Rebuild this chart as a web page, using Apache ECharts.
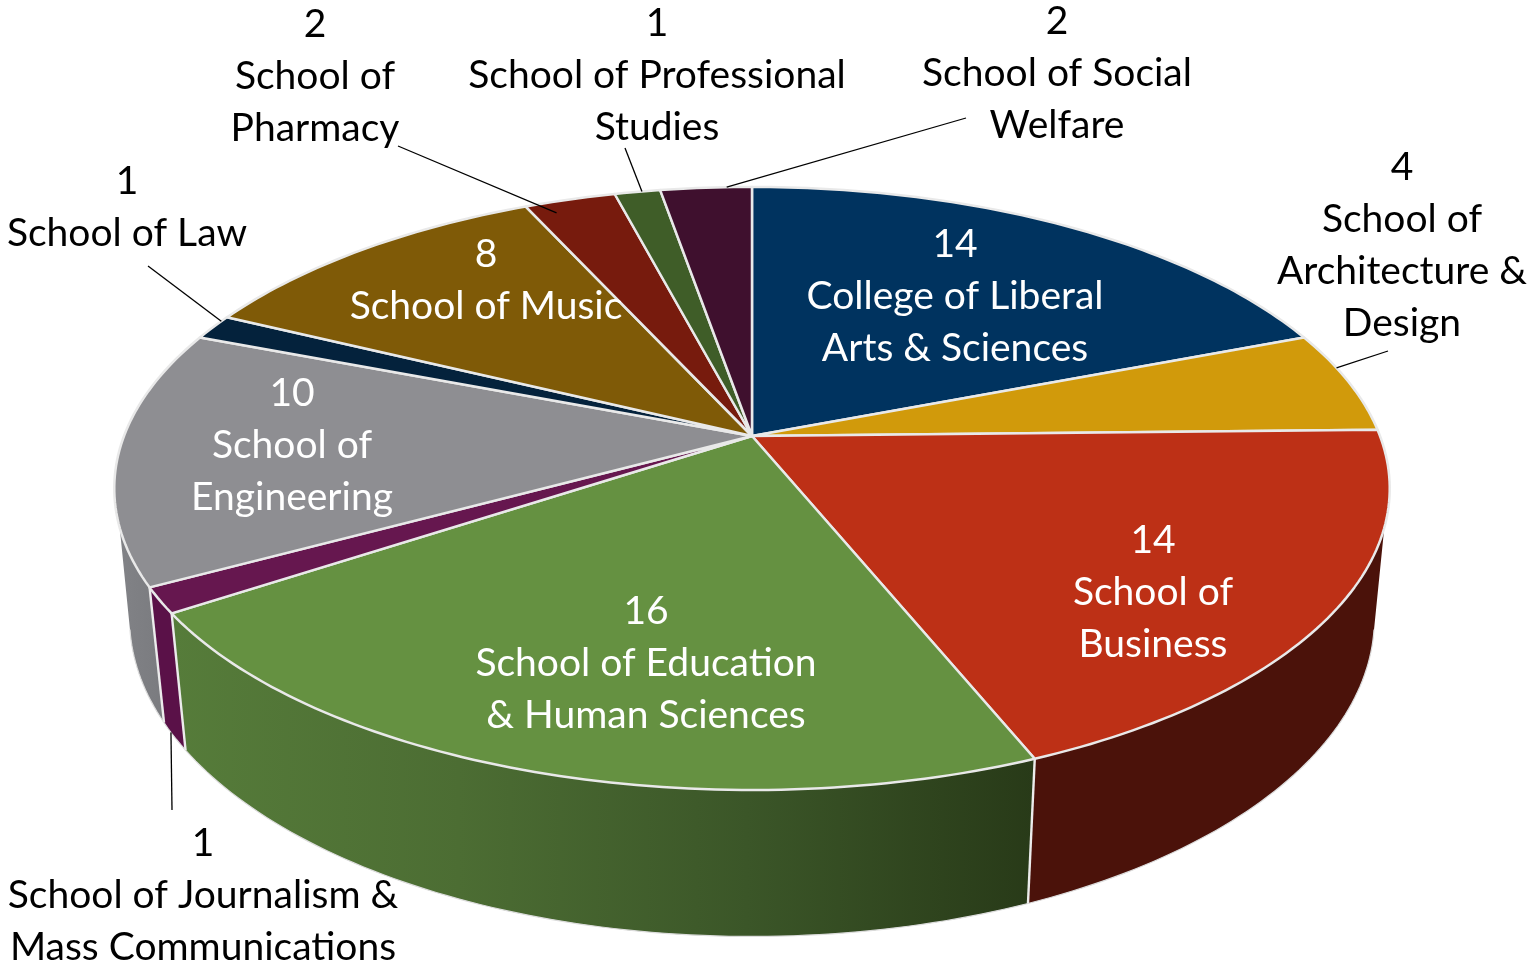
<!DOCTYPE html>
<html><head><meta charset="utf-8">
<style>html,body{margin:0;padding:0;background:#fff}#c{width:1528px;height:966px}</style>
<script src="https://cdn.jsdelivr.net/npm/echarts@6/dist/echarts.min.js"></script>
</head><body><div id="c"></div>
<script>
// ---- data ----
const categories = [
  'College of Liberal\nArts & Sciences',
  'School of\nArchitecture &\nDesign',
  'School of\nBusiness',
  'School of Education\n& Human Sciences',
  'School of Journalism &\nMass Communications',
  'School of\nEngineering',
  'School of Law',
  'School of Music',
  'School of\nPharmacy',
  'School of Professional\nStudies',
  'School of Social\nWelfare'
];
const values = [14, 4, 14, 16, 1, 10, 1, 8, 2, 1, 2];

// ---- styles ----
const topColors = ['#00335f','#d19a0b','#bd3016','#659141','#66174f','#8e8e92','#04223c','#7f5a07','#771b0d','#3f5d28','#3f102e'];
const sideColors = ['#00223f','#8a6607','#4b120a',null,'#5a1148',null,'#021626','#54400a','#4f1208','#2a3e1b','#2a0a1e'];
const greenSide = ['#567c3a','#4c6d33','#3b5628','#283a18'];
const graySide = ['#828387','#7a7b7f'];
const labelColors = ['#fff','#000','#fff','#fff','#000','#fff','#000','#fff','#000','#000','#000'];
// label centres (first line), and leader start + anchor within the slice
const labelX = [955,1402,1153,646,203,292,127,486,315,657,1057];
const labelY = [244.5,167.5,540.5,611.5,843.5,393.5,181.5,254.5,24.5,23.5,21.5];
const leaders = {
  1:{from:[1388,351],frac:.35,r:1},
  4:{from:[172,810],frac:.65,r:1,bottom:true},
  6:{from:[148,266],frac:.8,r:1},
  8:{from:[398,146],frac:.25,r:.95},
  9:{from:[625,148],frac:.6,r:1},
  10:{from:[966,118],frac:.725,r:1}
};
const fontFamily = 'Lato, Carlito, Calibri, sans-serif';
const fontSize = 39, lineGap = 52;

// ---- projection of the pie disc ----
const cx = 752, cy = 436, a = 628, b = 292.4, k = -0.174;
const botX = 0.976, botY = 1.055, botC = 103;
const total = values.reduce((s, v) => s + v, 0);
const starts = []; values.reduce((s, v, i) => (starts[i] = s, s + v), 0);
const rad = d => d * Math.PI / 180;
function topPt(deg, r) {
  r = r === undefined ? 1 : r;
  const X = r * Math.sin(rad(deg)), Y = -r * Math.cos(rad(deg)), w = 1 + k * Y;
  return [cx + a * X / w, cy + b * Y / w];
}
function botPt(deg) {
  const p = topPt(deg);
  return [cx + (p[0] - cx) * botX, p[1] * botY + botC];
}
function arc(fn, d0, d1) {
  const pts = [], n = Math.max(2, Math.ceil(Math.abs(d1 - d0) / 1));
  for (let i = 0; i <= n; i++) pts.push(fn(d0 + (d1 - d0) * i / n));
  return pts;
}
const toDeg = v => v / total * 360;
const grad = c => new echarts.graphic.LinearGradient(0, 0, 1, 0,
  c.map((col, i) => ({offset: i / (c.length - 1), color: col})));

function renderSide(params, api) {
  const i = params.dataIndex, v = api.value(0);
  const d0 = toDeg(starts[i]), d1 = toDeg(starts[i] + v);
  const t0 = Math.max(d0, 98), t1 = Math.min(d1, 262);
  const b0 = Math.max(d0, 102), b1 = Math.min(d1, 258);
  if (t1 <= t0) return {type: 'group', children: []};
  const poly = arc(topPt, t0, t1).concat(arc(botPt, b0, b1).reverse());
  const fill = i === 3 ? grad(greenSide) : i === 5 ? grad(graySide) : sideColors[i];
  const kids = [
    {type: 'polygon', shape: {points: poly}, style: {fill: fill, stroke: null}},
    {type: 'polyline', shape: {points: arc(botPt, b0, b1)}, style: {fill: null, stroke: '#dcdcdc', lineWidth: 1.2}}
  ];
  if (d0 >= 98 && d0 <= 262) kids.push({type: 'line', shape: {x1: topPt(d0)[0], y1: topPt(d0)[1], x2: botPt(d0)[0], y2: botPt(d0)[1]}, style: {stroke: '#ececec', lineWidth: 2.4}});
  return {type: 'group', children: kids};
}
function renderTop(params, api) {
  const i = params.dataIndex, v = api.value(0);
  const d0 = toDeg(starts[i]), d1 = toDeg(starts[i] + v);
  const poly = [[cx, cy]].concat(arc(topPt, d0, d1));
  return {type: 'polygon', shape: {points: poly},
    style: {fill: topColors[i], stroke: '#e9e9e9', lineWidth: 2.5, lineJoin: 'round'}};
}
function renderLabel(params, api) {
  const i = params.dataIndex, v = api.value(0);
  const kids = [{
    type: 'text',
    style: {
      text: v + '\n' + categories[i],
      x: labelX[i], y: labelY[i] - lineGap / 2,
      align: 'center', verticalAlign: 'top',
      fill: labelColors[i], fontFamily: fontFamily, fontSize: fontSize, lineHeight: lineGap
    }
  }];
  const L = leaders[i];
  if (L) {
    const d = toDeg(starts[i] + v * L.frac);
    const p = L.bottom ? botPt(d) : topPt(d, L.r);
    kids.push({type: 'line', shape: {x1: L.from[0], y1: L.from[1], x2: p[0], y2: p[1]},
      style: {stroke: '#000', lineWidth: 1.3}});
  }
  return {type: 'group', children: kids};
}
const seriesData = values.map(v => [v]);
const chart = echarts.init(document.getElementById('c'), null, {renderer: 'canvas'});
chart.setOption({
  animation: false,
  backgroundColor: '#fff',
  series: [
    {type: 'custom', coordinateSystem: 'none', silent: true, z: 1, data: seriesData, renderItem: renderSide},
    {type: 'custom', coordinateSystem: 'none', silent: true, z: 2, data: seriesData, renderItem: renderTop},
    {type: 'custom', coordinateSystem: 'none', silent: true, z: 3, data: seriesData, renderItem: renderLabel}
  ]
});
</script></body></html>
